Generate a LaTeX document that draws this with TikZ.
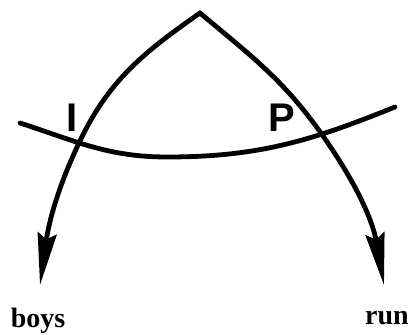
\documentclass[tikz,border=0pt]{standalone}
\usepackage{fontspec}
\setmainfont{Liberation Serif}
\setsansfont{Liberation Sans}
\usetikzlibrary{arrows.meta}
\begin{document}
\begin{tikzpicture}[x = 1pt, y = 1pt,
        curve/.style = {line width = 4.8pt, line cap = round},
        head/.style = {-{Stealth[length = 52pt, width = 19pt, inset = 6pt]}},
        word/.style = {font = \fontsize{28}{28}\selectfont\bfseries, anchor = base, inner sep = 0pt},
        tag/.style = {font = \fontsize{40}{40}\selectfont\sffamily\bfseries, inner sep = 0pt}]
        \useasboundingbox (0, 0) rectangle (408, 335);
        \coordinate (top) at (200, 322);
        \coordinate (lx) at (78, 190);
        \coordinate (rx) at (323, 199);
        \coordinate (ltip) at (40, 50);
        \coordinate (rtip) at (384, 50);
        \coordinate (lend) at (20, 212);
        \coordinate (low) at (167, 178);
        \coordinate (rend) at (395, 228);
        \draw[curve, head] (top) to[out = 215, in = 65] (lx) to[out = 245, in = 82] (ltip);
        \draw[curve, head] (top) to[out = -40, in = 125] (rx) to[out = -55, in = 100] (rtip);
        \draw[curve] (lend) to[out = -18, in = 180] (low) to[out = 0, in = 202] (rend);
        \node[tag] (i) at (72, 217) {I};
        \node[tag] (p) at (282, 217) {P};
        \node[word] (boys) at (38, 7) {boys};
        \node[word] (run) at (387, 10) {run};
    \end{tikzpicture}
\end{document}
